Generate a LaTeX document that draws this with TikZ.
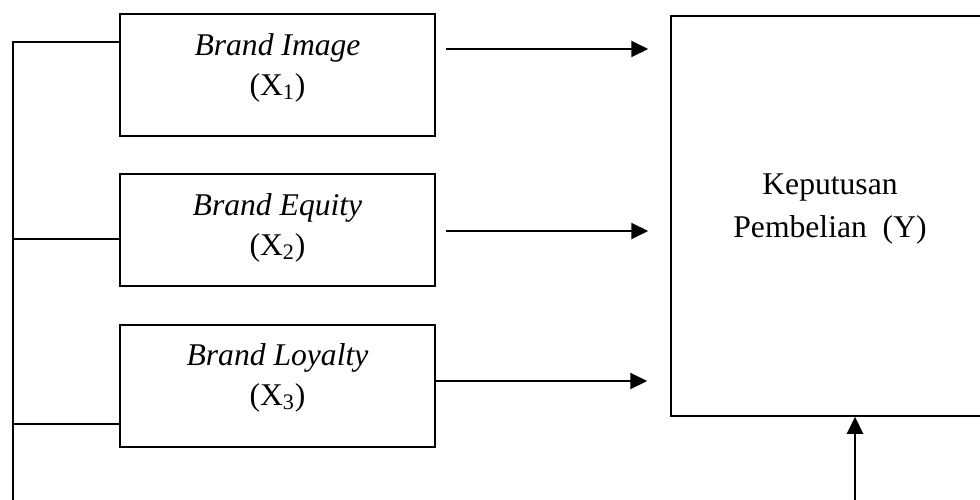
\documentclass[tikz,border=0pt]{standalone}
\usepackage{fontspec}
\setmainfont{Liberation Serif}
\usetikzlibrary{arrows.meta}
\begin{document}
\begin{tikzpicture}[x=0.02cm,y=-0.02cm,
  box/.style={draw,line width=0.8pt,minimum width=6.3cm,align=center,inner sep=0pt,font=\fontsize{18pt}{23pt}\selectfont},
  conn/.style={line width=1pt},
  arr/.style={line width=1.2pt,-{Triangle[length=0.34cm,width=0.32cm]}}]
\path[use as bounding box,clip] (0,0) rectangle (980,500);
\node[box,minimum height=2.44cm,text depth=0.43cm] (bi) at (277.5,75) {\textit{Brand Image}\\(X\textsubscript{1})};
\node[box,minimum height=2.24cm,text depth=0.23cm] (be) at (277.5,230) {\textit{Brand Equity}\\(X\textsubscript{2})};
\node[box,minimum height=2.44cm,text depth=0.47cm] (bl) at (277.5,386) {\textit{Brand Loyalty}\\(X\textsubscript{3})};
\node[box,line width=0.9pt,minimum width=6.36cm,minimum height=8cm,text depth=0.43cm,font=\fontsize{18pt}{24.5pt}\selectfont] (kp) at (830,216) {Keputusan\\Pembelian~ (Y)};
\coordinate (bus) at (13,520);
\draw[arr,shorten <=0.2cm,shorten >=0.44cm] (bi.east |- 0,49) -- (kp.west |- 0,49);
\draw[arr,shorten <=0.2cm,shorten >=0.44cm] (be.east |- 0,231) -- (kp.west |- 0,231);
\draw[arr,shorten >=0.46cm] (bl.east |- 0,381) -- (kp.west |- 0,381);
\draw[conn] (bi.west |- 0,42) -| (bus);
\draw[conn] (be.west |- 0,239) -- (bus |- 0,239);
\draw[conn] (bl.west |- 0,424) -- (bus |- 0,424);
\draw[arr] (bus) -| (kp.south -| 855,0);
\end{tikzpicture}
\end{document}
